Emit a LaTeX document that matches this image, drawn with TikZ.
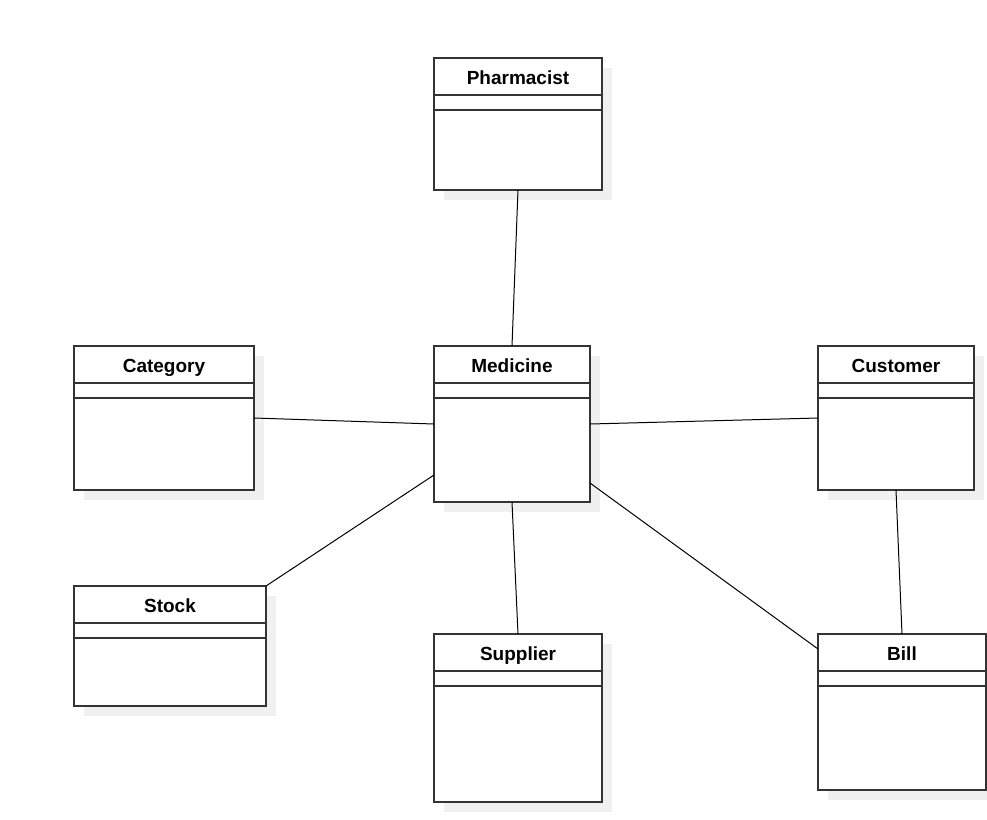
\documentclass[tikz,border=0pt]{standalone}
\usepackage{fontspec}
\setmainfont{Liberation Sans}
\usetikzlibrary{shadows}

\begin{document}
\begin{tikzpicture}[x=1pt, y=-1pt]
    % --- Paleta de Colores ---
    \colorlet{borde}{black!80}
    \colorlet{sombra}{black!6}

    % --- Estilos ---
    \tikzset{
        clase/.style={rectangle, draw=borde, line width=1.5pt, fill=white,
            anchor=north west, inner sep=0pt, outer sep=0pt,
            general shadow={fill=sombra, shadow xshift=10pt, shadow yshift=-10pt}},
        titulo/.style={anchor=base, inner sep=0pt,
            font=\fontsize{19}{23}\selectfont\bfseries},
        separador/.style={draw=borde, line width=1.5pt},
        enlace/.style={draw=black, line width=1pt}
    }

    % --- Marco ---
    \useasboundingbox (0,0) rectangle (987,819);

    % --- Clases ---
    \node[clase, minimum width=168pt, minimum height=132pt] (Farm)  at (434,58)  {};
    \node[clase, minimum width=180pt, minimum height=144pt] (Cat)   at (74,346)  {};
    \node[clase, minimum width=156pt, minimum height=156pt] (Med)   at (434,346) {};
    \node[clase, minimum width=156pt, minimum height=144pt] (Cli)   at (818,346) {};
    \node[clase, minimum width=192pt, minimum height=120pt] (Stock) at (74,586)  {};
    \node[clase, minimum width=168pt, minimum height=168pt] (Prov)  at (434,634) {};
    \node[clase, minimum width=168pt, minimum height=156pt] (Fact)  at (818,634) {};

    % Compartimentos (atributos y metodos)
    \foreach \c in {Farm,Cat,Med,Cli,Stock,Prov,Fact} {
        \draw[separador] ([yshift=-37pt]\c.north west) -- ([yshift=-37pt]\c.north east);
        \draw[separador] ([yshift=-52pt]\c.north west) -- ([yshift=-52pt]\c.north east);
    }

    % Nombres de las clases
    \node[titulo] (FarmT)  at ([yshift=-26pt]Farm.north)  {Pharmacist};
    \node[titulo] (CatT)   at ([yshift=-26pt]Cat.north)   {Category};
    \node[titulo] (MedT)   at ([yshift=-26pt]Med.north)   {Medicine};
    \node[titulo] (CliT)   at ([yshift=-26pt]Cli.north)   {Customer};
    \node[titulo] (StockT) at ([yshift=-26pt]Stock.north) {Stock};
    \node[titulo] (ProvT)  at ([yshift=-26pt]Prov.north)  {Supplier};
    \node[titulo] (FactT)  at ([yshift=-26pt]Fact.north)  {Bill};

    % --- Asociaciones ---
    \draw[enlace] (Farm.south) -- (Med.north);
    \draw[enlace] (Cat.east) -- (Med.west);
    \draw[enlace] (Med.east) -- (Cli.west);
    \draw[enlace] ([yshift=-51pt]Med.west) -- (Stock.north east);
    \draw[enlace] (Med.south) -- (Prov.north);
    \draw[enlace] ([yshift=-59pt]Med.east) -- ([yshift=63pt]Fact.west);
    \draw[enlace] (Cli.south) -- (Fact.north);

\end{tikzpicture}
\end{document}
